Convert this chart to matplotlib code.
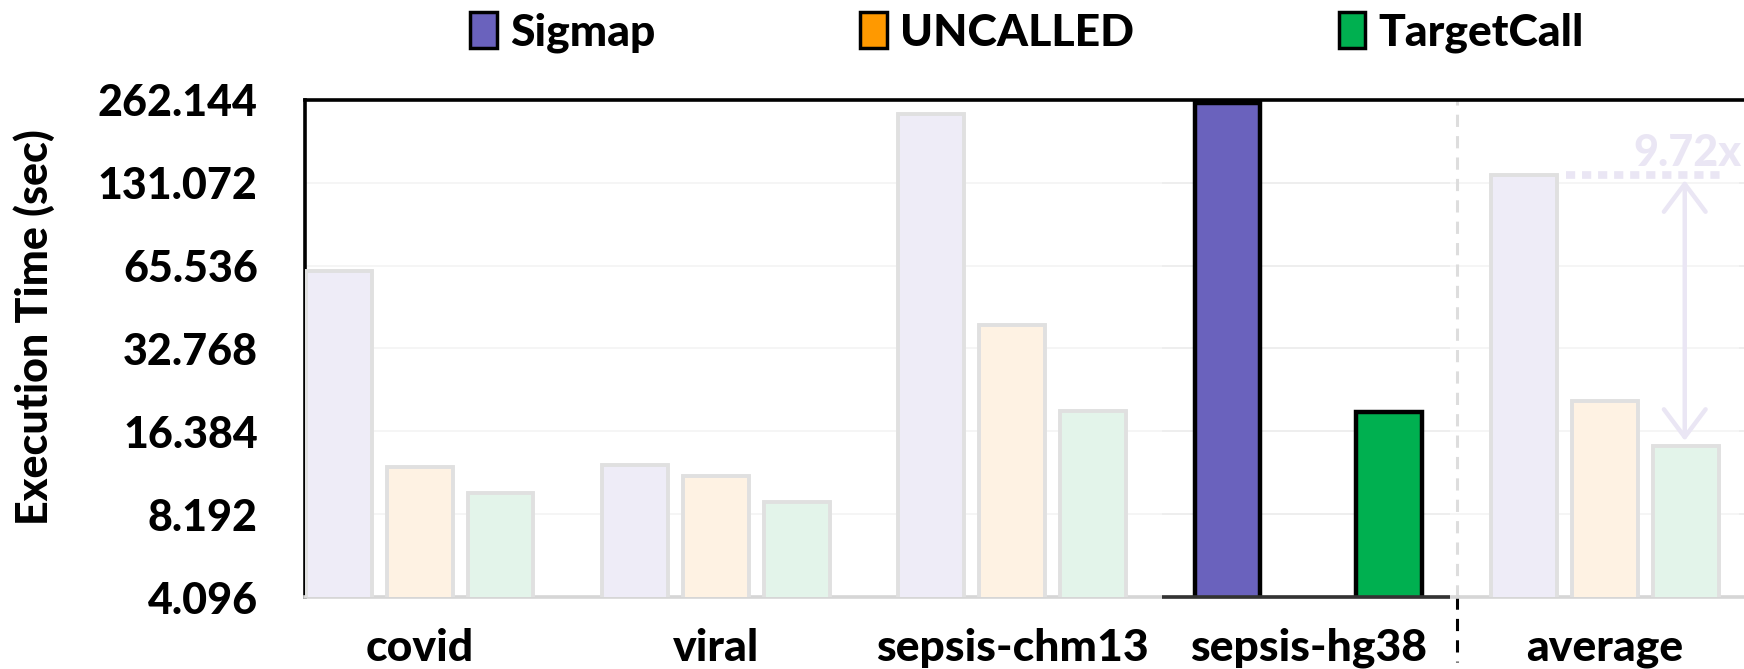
import numpy as np
import matplotlib
matplotlib.use("Agg")
import matplotlib.pyplot as plt
from matplotlib.patches import Patch
from matplotlib.ticker import FixedLocator, NullLocator, FixedFormatter

# ---- data -------------------------------------------------------------
categories = ["covid", "viral", "sepsis-chm13", "sepsis-hg38", "average"]
series = ["Sigmap", "UNCALLED", "TargetCall"]
sigmap = [62.5, 12.4, 234.0, 255.0, 140.3]
uncalled = [12.2, 11.3, 40.0, np.nan, 21.2]
targetcall = [9.8, 9.1, 19.5, 19.2, 14.45]
ytick_values = [4.096, 8.192, 16.384, 32.768, 65.536, 131.072, 262.144]
ytick_labels = ["4.096", "8.192", "16.384", "32.768", "65.536", "131.072", "262.144"]
speedup_label = "9.72x"
highlight = "sepsis-hg38"

# ---- style ------------------------------------------------------------
plt.rcParams["font.family"] = ["Lato", "DejaVu Sans"]
WEIGHT = 900
full_colors = ["#6A62BD", "#FF9900", "#00B050"]
faded_colors = ["#EEECF7", "#FEF2E3", "#E3F4EA"]
faded_edge = "#E0E0E0"
note_color = "#EAE6F4"
FS = 31

fig = plt.figure(figsize=(17.44, 6.69), dpi=100)
ax = fig.add_axes([305 / 1744, 1 - 597 / 669, 1 - 305 / 1744, (597 - 100) / 669])

ax.set_yscale("log", base=2)
ax.set_ylim(ytick_values[0], ytick_values[-1])
x = np.arange(len(categories))
ax.set_xlim(-0.387, 4.47)

width = 0.222
offsets = [-0.273, 0.0, 0.273]
values = [sigmap, uncalled, targetcall]

for j, vals in enumerate(values):
    for i, cat in enumerate(categories):
        v = vals[i]
        if np.isnan(v):
            continue
        hi = cat == highlight
        ax.bar(x[i] + offsets[j], v, width=width,
               color=full_colors[j] if hi else faded_colors[j],
               edgecolor="black" if hi else faded_edge,
               linewidth=3.2 if hi else 2.8, zorder=3)

# gridlines: faint everywhere, stronger under the highlighted group
ax.yaxis.set_major_locator(FixedLocator(ytick_values))
ax.yaxis.set_minor_locator(NullLocator())
ax.yaxis.set_major_formatter(FixedFormatter(ytick_labels))
ax.grid(axis="y", color="#F3F3F3", linewidth=1.2, zorder=0)
hi_idx = categories.index(highlight)
for yv in ytick_values[1:]:
    ax.hlines(yv, hi_idx - 0.495, hi_idx + 0.478, color="#D9D9D9", linewidth=1.4, zorder=1)
    ax.hlines(yv, 4.452, 4.47, color="#D9D9D9", linewidth=1.4, zorder=1)

ax.set_xticks(x)
ax.set_xticklabels(categories, fontsize=FS + 1, fontweight=WEIGHT)
ax.tick_params(axis="x", length=0, pad=22)
ax.tick_params(axis="y", length=0, pad=34, labelsize=FS)
for lab in ax.get_yticklabels():
    lab.set_fontweight(WEIGHT)

ax.set_ylabel("Execution Time (sec)", fontsize=31, fontweight=WEIGHT, va="center")
ax.yaxis.set_label_coords(-0.188, 0.543)

for s in ["top", "left"]:
    ax.spines[s].set_linewidth(2.6)
    ax.spines[s].set_color("black")
ax.spines["right"].set_visible(False)
ax.spines["bottom"].set_color("#D6D6D6")
ax.spines["bottom"].set_linewidth(2.6)
ax.hlines(ytick_values[0], hi_idx - 0.495, hi_idx + 0.478, color="#333333",
          linewidth=2.6, zorder=4, clip_on=False)

# group separator before the average
ax.axvline(3.5, color="#DDDDDD", linestyle=(0, (4, 3)), linewidth=2.2, zorder=2)
ax.plot([3.5, 3.5], [0.0, -0.13], transform=ax.get_xaxis_transform(),
        color="black", linestyle=(0, (4, 3)), linewidth=2.2, clip_on=False)

# speedup annotation on the average group
avg = categories.index("average")
ax.plot([avg - 0.13, avg + 0.41], [sigmap[avg]] * 2,
        color=note_color, linestyle=(0, (1.2, 0.9)), linewidth=5.5, zorder=2,
        solid_capstyle="butt")
ax.annotate("", xy=(avg + 0.27, targetcall[avg]), xytext=(avg + 0.27, sigmap[avg]),
            arrowprops=dict(arrowstyle="<->,head_length=1.0,head_width=0.75",
                            color=note_color, linewidth=3.2, mutation_scale=20,
                            shrinkA=4, shrinkB=4), zorder=2)
ax.annotate(speedup_label, xy=(avg + 0.28, sigmap[avg]), xytext=(0, 1),
            textcoords="offset points", ha="center", va="bottom",
            fontsize=FS, fontweight=WEIGHT, color=note_color, zorder=2)

# legend
handles = [Patch(facecolor=c, edgecolor="black", linewidth=2.5) for c in full_colors]
fig.legend(handles, series, loc="center", bbox_to_anchor=(0.589, 0.951), ncol=3,
           frameon=False, prop=dict(weight=WEIGHT, size=FS + 1), handlelength=0.6,
           handleheight=0.85, handletextpad=0.3, columnspacing=4.6)

fig.savefig("out.png", dpi=100)
